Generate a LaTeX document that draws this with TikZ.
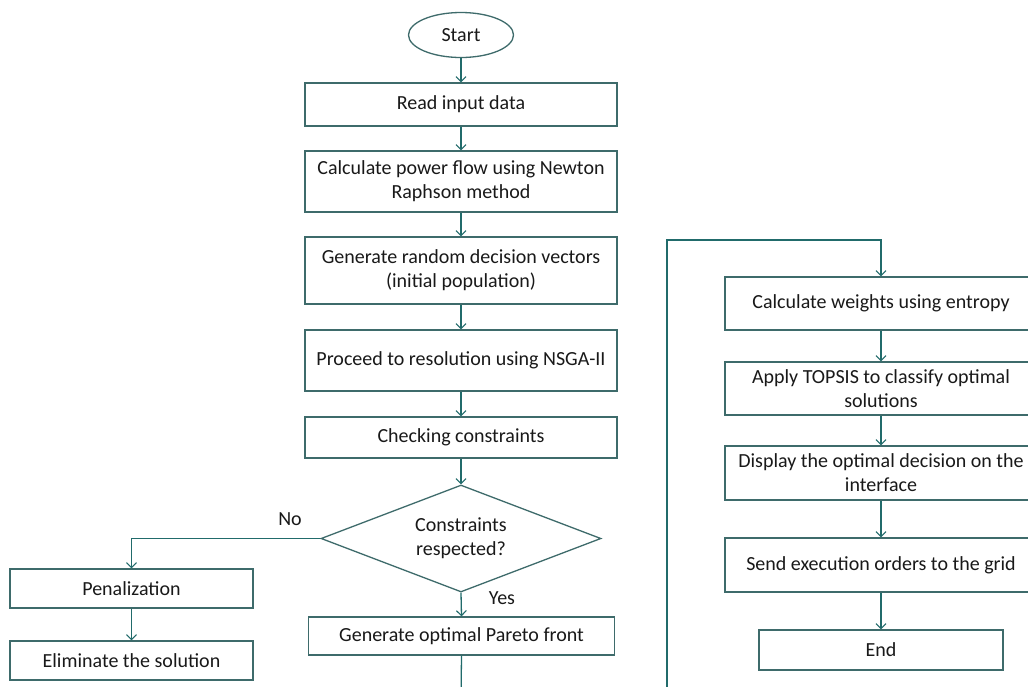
\documentclass[tikz,border=0pt]{standalone}
\usepackage{fontspec}
\setmainfont{Carlito}
\usetikzlibrary{arrows.meta,shapes.geometric}
\definecolor{boxc}{HTML}{3E6B6B}
\definecolor{arrc}{HTML}{216B6B}
\begin{document}
\begin{tikzpicture}[x=1pt,y=-1pt,
  every node/.style={font=\fontsize{20}{24}\selectfont, text=black!90},
  box/.style={draw=boxc, line width=1.3pt, rectangle, minimum width=312pt, inner sep=0pt, align=center},
  arr/.style={draw=arrc, line width=1.3pt, -{Straight Barb[length=5pt,width=10pt,line width=1.1pt]}},
  ln/.style={draw=arrc, line width=1.3pt}]
\clip (0,0) rectangle (1028,686);
\useasboundingbox (0,0) rectangle (1028,686);
\fill[white] (0,0) rectangle (1028,686);
% left column
\node[draw=boxc, line width=1.3pt, ellipse, minimum width=105pt, minimum height=45pt, inner sep=0pt] (start) at (461,35) {Start};
\node[box, minimum height=43pt] (read) at (461,104.5) {Read input data};
\node[box, minimum height=61pt] (pf) at (461,181.5) {Calculate power flow using Newton\\Raphson method};
\node[box, minimum height=67pt] (gen) at (461,270.5) {Generate random decision vectors\\(initial population)};
\node[box, minimum height=61pt] (nsga) at (461,360.5) {Proceed to resolution using NSGA-II};
\node[box, minimum height=41pt] (chk) at (461,437.5) {Checking constraints};
\node[draw=boxc, line width=1.3pt, diamond, aspect=2.6, minimum width=280pt, minimum height=107pt, inner sep=0pt, align=center] (dia) at (461,538.5) {Constraints\\respected?};
\node[box, minimum width=243pt, minimum height=39pt] (pen) at (131.5,588.5) {Penalization};
\node[box, minimum width=243pt, minimum height=39pt] (elim) at (131.5,660.5) {Eliminate the solution};
\node[box, minimum width=306pt, minimum height=38pt] (par) at (461.5,636) {Generate optimal Pareto front};
\node (no) at (290,519) {No};
\node (yes) at (502,598) {Yes};
% right column
\node[box, minimum height=53pt] (wt) at (881,303.5) {Calculate weights using entropy};
\node[box, minimum height=53pt] (top) at (881,388.5) {Apply TOPSIS to classify optimal\\solutions};
\node[box, minimum height=54pt] (disp) at (881,473) {Display the optimal decision on the\\interface};
\node[box, minimum height=54pt] (send) at (881,565) {Send execution orders to the grid};
\node[box, minimum width=244pt, minimum height=40pt] (end) at (881,650) {End};
\coordinate (c1) at (461,700);
\coordinate (c2) at (667,700);
\coordinate (c3) at (881,240);
% connectors
\draw[arr] (start) -- (read);
\draw[arr] (read) -- (pf);
\draw[arr] (pf) -- (gen);
\draw[arr] (gen) -- (nsga);
\draw[arr] (nsga) -- (chk);
\draw[arr] (chk) -- (dia);
\draw[arr] (dia.west) -| (pen.north);
\draw[arr] (pen) -- (elim);
\draw[arr] (dia.south) -- (par.north);
\draw[ln] (par.south) -- (c1);
\draw[arr] (c2) |- (c3) -- (wt.north);
\draw[arr] (wt) -- (top);
\draw[arr] (top) -- (disp);
\draw[arr] (disp) -- (send);
\draw[arr] (send) -- (end);
\end{tikzpicture}
\end{document}
